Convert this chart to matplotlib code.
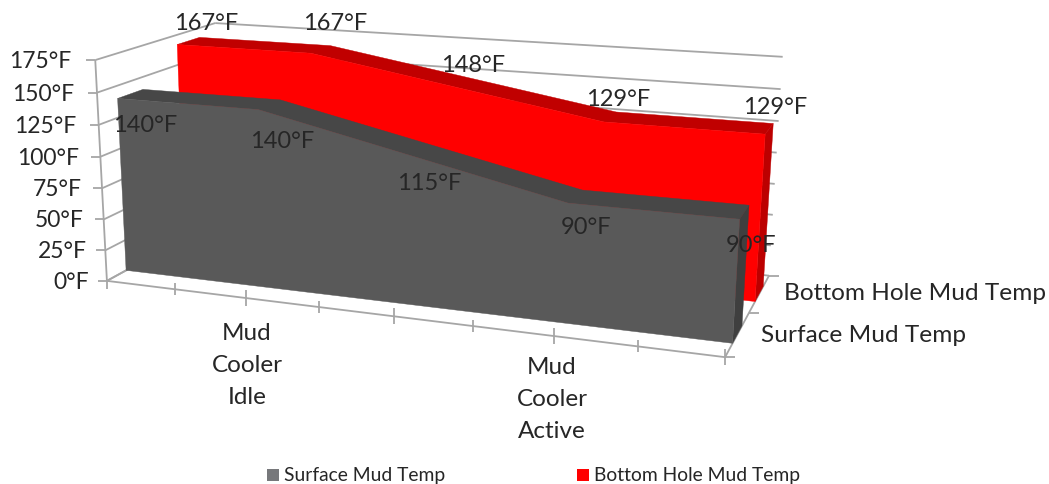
import numpy as np
import matplotlib
matplotlib.use("Agg")
import matplotlib.pyplot as plt
from matplotlib.patches import Polygon, Rectangle

plt.rcParams['font.family'] = ['Lato', 'DejaVu Sans']

W, H = 1049, 484
# data
point_index = [0, 1, 2, 3, 4]
category_labels = ['', 'Mud\nCooler\nIdle', '', 'Mud\nCooler\nActive', '']
surface_temp = [140, 140, 115, 90, 90]
bottom_temp = [167, 167, 148, 129, 129]
value_ticks = [0, 25, 50, 75, 100, 125, 150, 175]
series_names = ['Surface Mud Temp', 'Bottom Hole Mud Temp']

# camera calibration: (x, value, depth) -> image pixel
x_px = [107, 175, 246, 319, 395, 473, 554, 638, 725]
left_y = [281, 250, 219, 188, 157, 125, 92, 60]
left_x = [107, 105, 103.5, 102, 100.5, 99, 97, 95]
right_y = [275, 245, 214, 183, 153, 121, 89, 57]
right_x = [769, 771, 773, 775, 777, 779, 781, 782]
corr = []
for i, px in enumerate(x_px):
    corr.append((i / 2, 0, 0, px, 281 + (px - 107) * 76 / 618))
for v, px, py in zip(value_ticks, left_x, left_y):
    corr.append((0, v, 0, px, py))
for v, px, py in zip(value_ticks, right_x, right_y):
    corr.append((4, v, 1, px, py))
corr.append((0, 175, 1, 215, 24))
corr.append((4, 0, .5, 747, 316))

A = []
for x, v, z, u, w in corr:
    X = [x, v / 100, z, 1]
    A.append(X + [0, 0, 0, 0] + [-u * c for c in X])
    A.append([0, 0, 0, 0] + X + [-w * c for c in X])
P = np.linalg.svd(np.array(A, float))[2][-1].reshape(3, 4)


def proj(x, v, z):
    h = P @ np.array([x, v / 100, z, 1.0])
    return h[0] / h[2], h[1] / h[2]


fig = plt.figure(figsize=(W / 100, H / 100), dpi=100)
ax = fig.add_axes([0, 0, 1, 1])
ax.set_xlim(0, W)
ax.set_ylim(H, 0)
ax.axis('off')

GRID = '#A6A6A6'
TXT = '#262626'


def line(a, b, lw=1.3):
    ax.plot([a[0], b[0]], [a[1], b[1]], color=GRID, lw=lw, solid_capstyle='butt', zorder=1)


for v in value_ticks:
    a, b, c = proj(0, v, 0), proj(0, v, 1), proj(4, v, 1)
    line(a, b)
    line(b, c)
    line((a[0] - 9, a[1]), a)
    ax.text(a[0] - 18 - 6 * v / 175, a[1] + 1.5, f'{v}°F', ha='right', va='center', fontsize=16.5, color=TXT)
line(proj(0, 0, 0), proj(0, 175, 0))
line(proj(0, 0, 0), proj(4, 0, 0))
line(proj(4, 0, 0), proj(4, 0, 1))
line(proj(0, 0, 0), proj(0, 0, 1))
for k in range(9):
    x = k / 2
    px, py = proj(x, 0, 0)
    d = 8 if k % 2 == 0 else 6
    line((px, py - (0 if k == 0 else d)), (px, py + d))
for z in (0, .5, 1):
    px, py = proj(4, 0, z)
    line((px, py), (px + 10, py))


def draw_series(vals, z0, z1, front, top, side, zo):
    f = [proj(x, v, z0) for x, v in zip(point_index, vals)]
    b = [proj(x, v, z1) for x, v in zip(point_index, vals)]
    ax.add_patch(Polygon([proj(4, 0, z0), proj(4, 0, z1), b[-1], f[-1]], fc=side, ec=side, lw=.3, zorder=zo))
    ax.add_patch(Polygon(f + b[::-1], fc=top, ec=top, lw=.3, zorder=zo))
    ax.add_patch(Polygon([proj(0, 0, z0)] + f + [proj(4, 0, z0)], fc=front, ec=front, lw=.3, zorder=zo + .1))


draw_series(bottom_temp, .65, .85, '#FF0000', '#C00000', '#BC0000', 2)
draw_series(surface_temp, .15, .35, '#595959', '#474747', '#3F3F3F', 3)

for v, pos in zip(bottom_temp, [(206, 23), (335, 23), (473, 65), (618, 99), (775, 108)]):
    ax.text(*pos, f'{v}°F', ha='center', va='center', fontsize=17, color=TXT, zorder=5)
for v, pos in zip(surface_temp, [(145, 125), (282, 142), (429, 184), (586, 227), (751, 246)]):
    ax.text(*pos, f'{v}°F', ha='center', va='center', fontsize=17, color=TXT, zorder=5)

for lab, pos in zip(category_labels, [None, (247, 334), None, (552, 367), None]):
    if lab:
        for j, s in enumerate(lab.split('\n')):
            ax.text(pos[0], pos[1] + 32 * j, s, ha='center', va='center', fontsize=17.5, color=TXT)

ax.text(784, 294, series_names[1], ha='left', va='center', fontsize=17.6, color=TXT)
ax.text(761, 335, series_names[0], ha='left', va='center', fontsize=17.6, color=TXT)

ax.add_patch(Rectangle((267, 469), 12, 12, fc='#77787B', ec='none'))
ax.text(284, 475, series_names[0], ha='left', va='center', fontsize=13.9, color=TXT)
ax.add_patch(Rectangle((577, 469), 12, 12, fc='#FF0000', ec='none'))
ax.text(594, 475, series_names[1], ha='left', va='center', fontsize=13.9, color=TXT)

fig.savefig('out.png', dpi=100)
